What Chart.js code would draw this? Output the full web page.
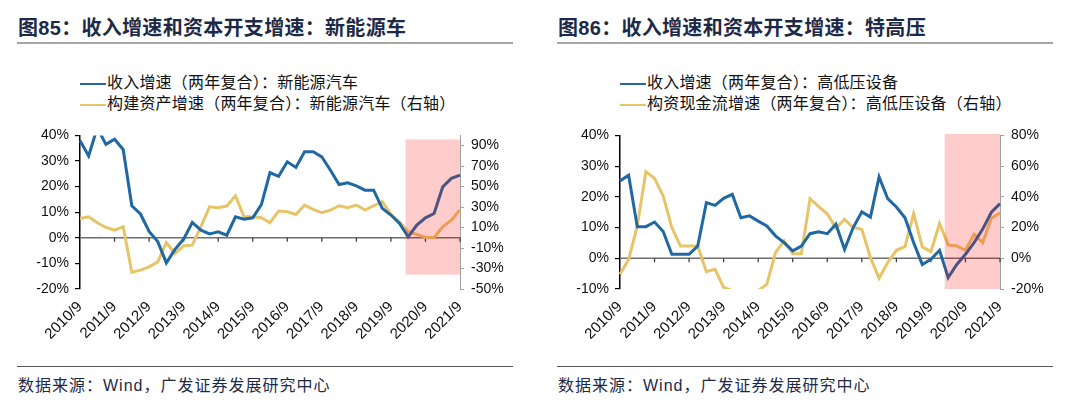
<!DOCTYPE html>
<html>
<head>
<meta charset="utf-8">
<script src="https://cdn.jsdelivr.net/npm/chart.js@4.4.0/dist/chart.umd.min.js"></script>
<style>
body{margin:0;width:1080px;height:405px;background:#fff;overflow:hidden;font-family:"Liberation Sans","Noto Sans CJK SC",sans-serif;}
.panel{position:absolute;top:0;width:540px;height:405px;}
.title{position:absolute;left:18px;top:12px;font-size:20px;font-weight:bold;color:#1d2a47;white-space:nowrap;letter-spacing:0.3px;}
.rule{position:absolute;left:17px;width:496px;top:42px;height:2px;background:#a6a6a6;}
.legend{position:absolute;left:80px;font-size:16px;letter-spacing:0.2px;color:#111;white-space:nowrap;line-height:20px;}
.legend span{display:inline-block;width:26px;height:2px;vertical-align:middle;margin-right:1px;}
.box{position:absolute;left:0;top:120px;width:540px;height:235px;}
.rule2{position:absolute;left:17px;width:496px;top:366px;height:1px;background:#555;}
.src{position:absolute;left:18px;top:372px;font-size:16px;letter-spacing:1px;color:#1d2a47;white-space:nowrap;}
</style>
</head>
<body>
<div class="panel" style="left:0">
  <div class="title">图85：收入增速和资本开支增速：新能源车</div>
  <div class="rule"></div>
  <div class="legend" style="top:73px"><span style="background:#2068a3"></span>收入增速（两年复合）：新能源汽车</div>
  <div class="legend" style="top:94px"><span style="background:#e8c468"></span>构建资产增速（两年复合）：新能源汽车（右轴）</div>
  <div class="box"><canvas id="c1"></canvas></div>
  <div class="rule2"></div>
  <div class="src">数据来源：Wind，广发证券发展研究中心</div>
</div>
<div class="panel" style="left:540px">
  <div class="title">图86：收入增速和资本开支增速：特高压</div>
  <div class="rule"></div>
  <div class="legend" style="top:73px"><span style="background:#2068a3"></span>收入增速（两年复合）：高低压设备</div>
  <div class="legend" style="top:94px"><span style="background:#e8c468"></span>构资现金流增速（两年复合）：高低压设备（右轴）</div>
  <div class="box"><canvas id="c2"></canvas></div>
  <div class="rule2"></div>
  <div class="src">数据来源：Wind，广发证券发展研究中心</div>
</div>
<script>
const quarters = ['2010/9','2010/12','2011/3','2011/6','2011/9','2011/12','2012/3','2012/6','2012/9','2012/12',
  '2013/3','2013/6','2013/9','2013/12','2014/3','2014/6','2014/9','2014/12','2015/3','2015/6','2015/9','2015/12',
  '2016/3','2016/6','2016/9','2016/12','2017/3','2017/6','2017/9','2017/12','2018/3','2018/6','2018/9','2018/12',
  '2019/3','2019/6','2019/9','2019/12','2020/3','2020/6','2020/9','2020/12','2021/3','2021/6','2021/9'];

// 新能源车
const revNEV = [38, 32, 43, 36.5, 38.5, 34.5, 12.5, 9.3, 2.5, -1.5, -9.8, -4.5, -0.5, 6, 3, 1.5, 2.3, 1, 8.2, 7.3,
  7.8, 13, 25.5, 24, 29.7, 27.5, 33.6, 33.6, 31.6, 26.4, 20.8, 21.5, 20.3, 18.6, 18.6, 11.5, 8.9, 5.6, 0.4, 5,
  7.8, 9.5, 19.9, 23.2, 24.5];
const capexNEV = [18.9, 20.5, 14.7, 10.1, 7.5, 10.8, -33.6, -31.6, -28.4, -23.5, -4.6, -15.3, -7.8, -7.2, 11, 30.3,
  29.4, 31, 41, 20.5, 20.5, 19.6, 14.7, 26.1, 25.4, 22.8, 31.9, 27.7, 24.5, 27, 31.3, 29.4, 32, 27, 31.3, 35.2,
  22.8, 15.7, 5.9, 3.3, 0.3, 0.3, 10.8, 17.3, 27.5];
const leftTicksNEV = [-20, -10, 0, 10, 20, 30, 40];
const rightTicksNEV = [-50, -30, -10, 10, 30, 50, 70, 90];
const rightRangeNEV = [-50, 100];
const shadeNEV = [37.7, 44, -36, 96]; // 起止季度序号, 右轴下限/上限

// 特高压
const revHV = [25.2, 27, 10.3, 10.3, 11.8, 8.7, 1.3, 1.3, 1.3, 4, 18.1, 17.2, 19.5, 20.8, 13.2, 13.8, 12.1, 10.5,
  7.3, 5.1, 2.4, 4, 8, 8.6, 8, 11.1, 2.9, 10, 15.1, 13.4, 26.5, 19.4, 16.7, 13.2, 5.1, -2, -0.3, 2.6, -6.3, -2,
  1.3, 5.1, 9.5, 15, 17.8];
const capexHV = [-10.4, -0.7, 21, 56.4, 52, 40.6, 20, 8, 8, 8, -8.7, -7.2, -19, -21, -23, -22.5, -21, -17, 3.7,
  11.3, 3, 3, 38.8, 33.6, 29, 19.5, 25.4, 20, 18.9, 0.4, -13, -2.8, 5.2, 7.6, 29, 7.4, 4.3, 22.6, 8.7, 8, 5.2,
  15.6, 10.2, 26, 29.5];
const leftTicksHV = [-10, -5, 0, 5, 10, 15, 20, 25, 30, 35, 40];
const rightTicksHV = [-20, -10, 0, 10, 20, 30, 40, 50, 60, 70, 80];
const rightRangeHV = [-20, 80];
const shadeHV = [37.6, 44, -20, 81];

const BLUE = '#2068a3', GOLD = '#e8c468';
const tickFont = {family: '"Liberation Sans", Arial, sans-serif', size: 14};
const xFont = {family: '"Liberation Sans", Arial, sans-serif', size: 15};

function makeChart(id, rev, capex, lt, rt, rr, shade) {
  const overlay = {
    id: 'overlay',
    beforeDatasetsDraw(chart) {
      const {ctx, chartArea: a, scales: {x, y}} = chart;
      const y0 = y.getPixelForValue(0);
      ctx.save();
      ctx.strokeStyle = '#6e6e6e';
      ctx.lineWidth = 1.5;
      ctx.beginPath();
      ctx.moveTo(a.left, y0); ctx.lineTo(a.right, y0);
      ctx.stroke();
      ctx.strokeStyle = '#333';
      ctx.lineWidth = 1.2;
      quarters.forEach((q, i) => {
        if (i > 0 && q.endsWith('/9')) {
          const px = x.getPixelForValue(i);
          ctx.beginPath(); ctx.moveTo(px, y0); ctx.lineTo(px, y0 + 4); ctx.stroke();
        }
      });
      ctx.restore();
    },
    afterDatasetsDraw(chart) {
      const {ctx, scales: {x, y1}} = chart;
      const x0 = x.getPixelForValue(shade[0]), x1 = x.getPixelForValue(shade[1]);
      const yb = y1.getPixelForValue(shade[2]), yt = y1.getPixelForValue(shade[3]);
      ctx.save();
      ctx.fillStyle = 'rgba(255,0,0,0.2)';
      ctx.fillRect(x0, yt, x1 - x0, yb - yt);
      ctx.restore();
    }
  };
  return new Chart(document.getElementById(id), {
    type: 'line',
    data: {
      labels: quarters,
      datasets: [
        {data: rev, yAxisID: 'y', borderColor: BLUE, borderWidth: 3, pointRadius: 0, tension: 0},
        {data: capex, yAxisID: 'y1', borderColor: GOLD, borderWidth: 3, pointRadius: 0, tension: 0}
      ]
    },
    options: {
      responsive: true,
      maintainAspectRatio: false,
      animation: false,
      layout: {padding: {top: 15, left: 0, right: 0, bottom: 0}},
      plugins: {legend: {display: false}, tooltip: {enabled: false}},
      scales: {
        x: {
          grid: {display: false, drawTicks: false},
          border: {display: false},
          ticks: {
            autoSkip: false, maxRotation: 45, minRotation: 45, padding: 9,
            color: '#111', font: xFont,
            callback: (v, i) => quarters[i].endsWith('/9') ? quarters[i] : ''
          },
          afterFit: s => { s.height = 66; }
        },
        y: {
          position: 'left',
          min: lt[0], max: lt[lt.length - 1],
          afterBuildTicks: s => { s.ticks = lt.map(v => ({value: v})); },
          ticks: {color: '#111', font: tickFont, padding: 6, callback: v => v + '%'},
          grid: {drawOnChartArea: false, color: '#000', tickLength: 5, lineWidth: 1.2},
          border: {color: '#000', width: 1.5},
          afterFit: s => { s.width = 80; }
        },
        y1: {
          position: 'right',
          min: rr[0], max: rr[1],
          afterBuildTicks: s => { s.ticks = rt.map(v => ({value: v})); },
          ticks: {color: '#111', font: tickFont, padding: 7, callback: v => v + '%'},
          grid: {drawOnChartArea: false, color: '#a0a0a0', tickLength: 4},
          border: {color: '#a0a0a0', width: 1},
          afterFit: s => { s.width = 80; }
        }
      }
    },
    plugins: [overlay]
  });
}

makeChart('c1', revNEV, capexNEV, leftTicksNEV, rightTicksNEV, rightRangeNEV, shadeNEV);
makeChart('c2', revHV, capexHV, leftTicksHV, rightTicksHV, rightRangeHV, shadeHV);
</script>
</body>
</html>
